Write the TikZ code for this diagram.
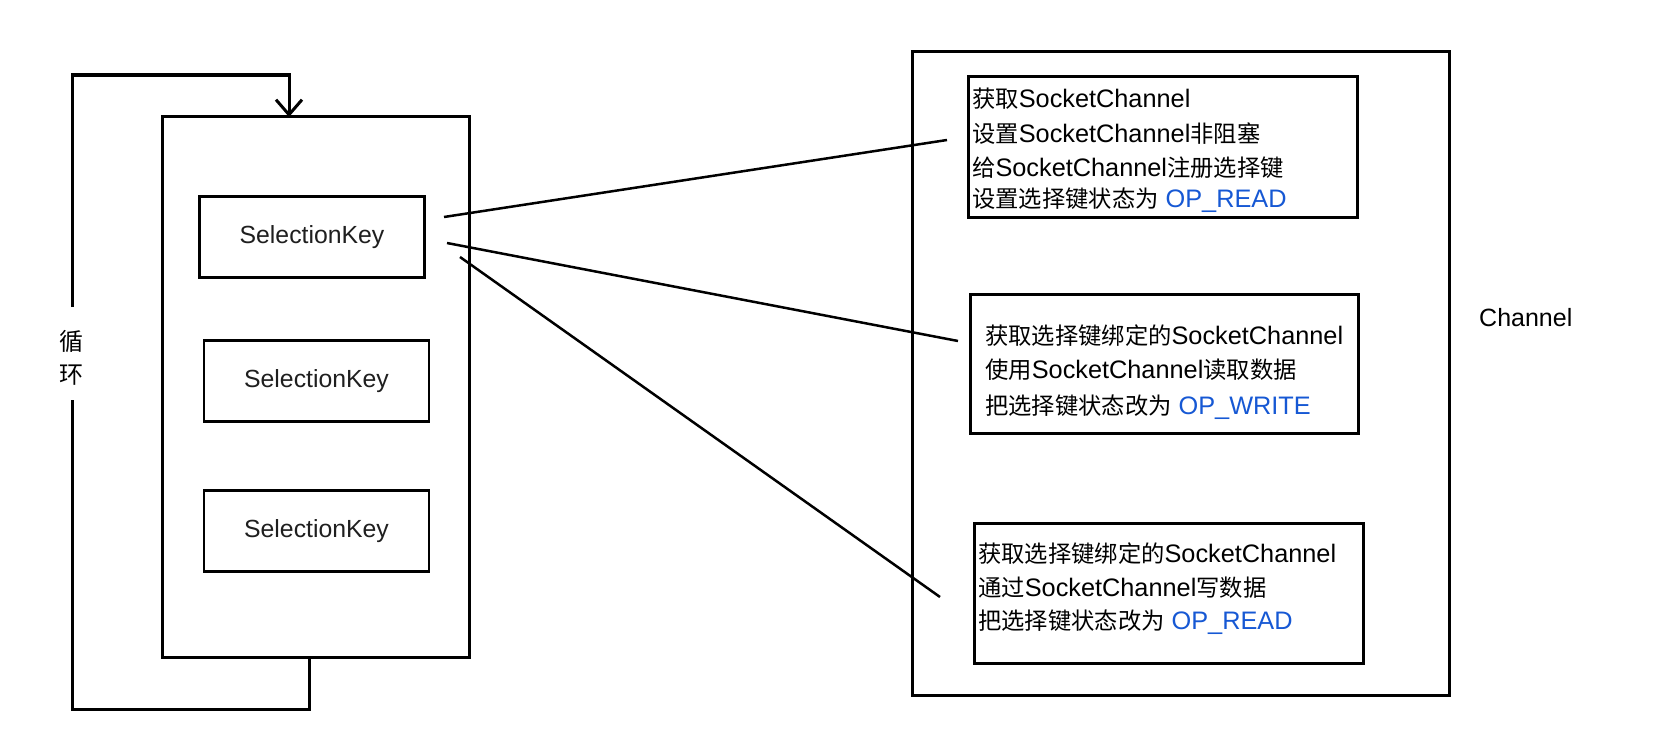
\documentclass[tikz,border=0pt]{standalone}
\usepackage{fontspec}
\setmainfont{Liberation Sans}
\newfontfamily\cjk{Noto Sans CJK SC}
\usetikzlibrary{arrows.meta}
\definecolor{opblue}{RGB}{22,88,212}
\newcommand\zh[1]{{\cjk\fontsize{23.3bp}{33.5bp}\selectfont #1}}
\tikzset{
  frame/.style={draw, line width=3bp, inner sep=0pt, outer sep=0pt},
  keybox/.style={draw, line width=2.3bp, inner sep=0pt, outer sep=0pt,
    minimum width=225bp, minimum height=81bp, font=\fontsize{24.8bp}{28bp}\selectfont, text=black!88},
  txt/.style={anchor=base west, inner sep=0pt, font=\fontsize{25.3bp}{33.5bp}\selectfont},
  link/.style={line width=2.5bp},
  looppath/.style={line width=3bp},
  looptxt/.style={inner sep=0pt, font=\cjk\fontsize{24bp}{26bp}\selectfont},
}
\begin{document}
\begin{tikzpicture}[x=1bp,y=-1bp]
\useasboundingbox[fill=white] (0,0) rectangle (1653,755);

% left container
\node[frame, minimum width=307bp, minimum height=540bp] (keys) at (315.5,387) {};
\node[keybox] (sk1) at (312,237) {SelectionKey};
\node[keybox] (sk2) at (316.5,381) {SelectionKey};
\node[keybox] (sk3) at (316.5,531) {SelectionKey};

% loop
\coordinate (lt) at (72,307);
\coordinate (lb) at (72,400);
\coordinate (arr) at (289,75);
\coordinate (bot) at (309,709);
\draw[looppath, -{Straight Barb[length=15bp, width=26bp, line width=3bp]}] (lt) |- (arr) -- (arr |- keys.north);
\draw[looppath] (lb) |- (bot) -- (bot |- keys.south);
\node[looptxt] (loop1) at (71,341) {循};
\node[looptxt] (loop2) at (71,375) {环};

% channel container
\node[frame, minimum width=537bp, minimum height=643bp] (chan) at (1180.5,373.5) {};
\node[txt, font=\fontsize{25bp}{30bp}\selectfont] (chanlbl) at (1479,326) {Channel};

\node[frame, minimum width=389bp, minimum height=140bp] (box1) at (1162.5,147) {};
\node[frame, minimum width=388bp, minimum height=139bp] (box2) at (1164,363.5) {};
\node[frame, minimum width=389bp, minimum height=140bp] (box3) at (1168.5,593) {};

% box 1 text
\node[txt] (b1a) at (972,107) {\zh{获取}SocketChannel};
\node[txt] (b1b) at (972,142) {\zh{设置}SocketChannel\zh{非阻塞}};
\node[txt] (b1c) at (972,176) {\zh{给}SocketChannel\zh{注册选择键}};
\node[txt] (b1d) at (972,207) {\zh{设置选择键状态为} \textcolor{opblue}{OP\_READ}};

% box 2 text
\node[txt] (b2a) at (985,344) {\zh{获取选择键绑定的}SocketChannel};
\node[txt] (b2b) at (985,378) {\zh{使用}SocketChannel\zh{读取数据}};
\node[txt] (b2c) at (985,414) {\zh{把选择键状态改为} \textcolor{opblue}{OP\_WRITE}};

% box 3 text
\node[txt] (b3a) at (978,562) {\zh{获取选择键绑定的}SocketChannel};
\node[txt] (b3b) at (978,596) {\zh{通过}SocketChannel\zh{写数据}};
\node[txt] (b3c) at (978,629) {\zh{把选择键状态改为} \textcolor{opblue}{OP\_READ}};

% connectors
\coordinate (c1s) at (444,217);
\coordinate (c1e) at (947,140);
\coordinate (c2s) at (447,243);
\coordinate (c2e) at (958,341);
\coordinate (c3s) at (460,257);
\coordinate (c3e) at (940,597);
\draw[link] (c1s) -- (c1e);
\draw[link] (c2s) -- (c2e);
\draw[link] (c3s) -- (c3e);
\end{tikzpicture}
\end{document}
